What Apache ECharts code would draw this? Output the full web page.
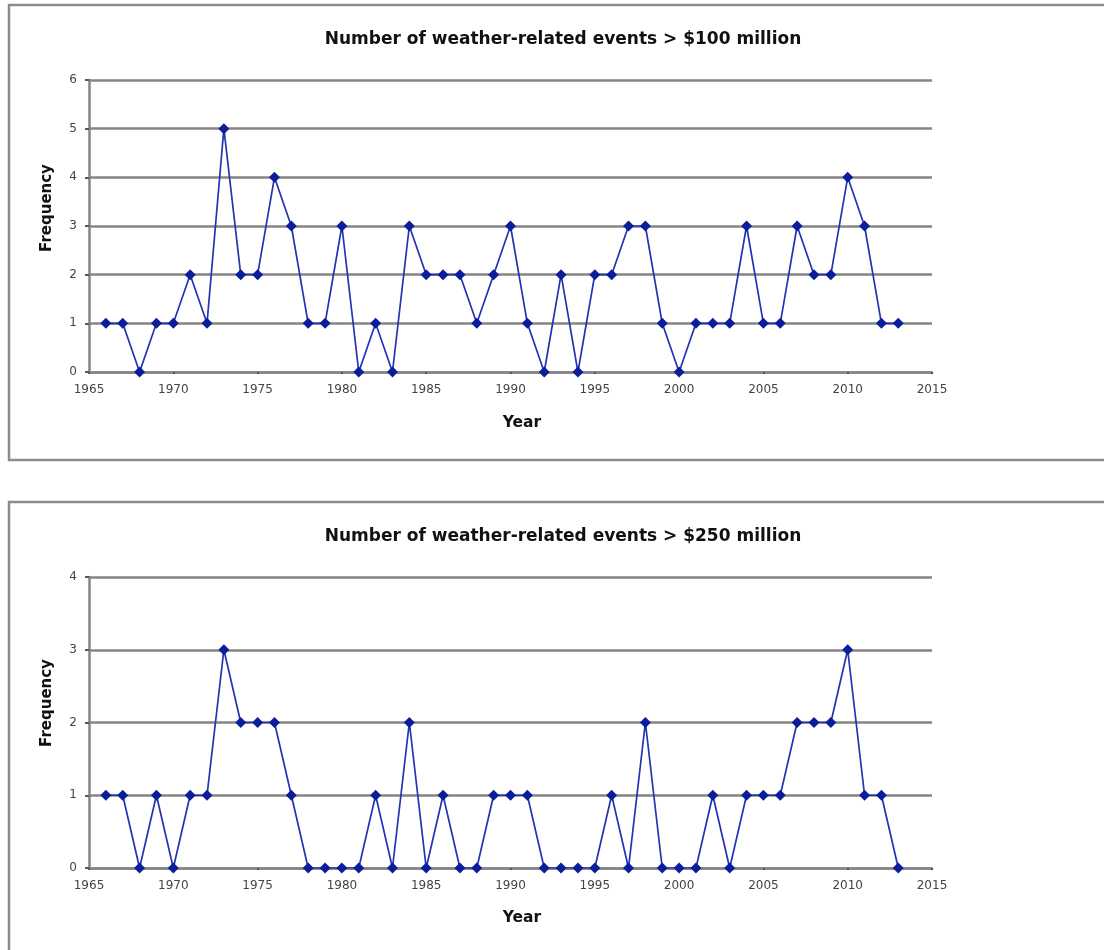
<!DOCTYPE html>
<html>
<head>
<meta charset="utf-8">
<script src="https://cdn.jsdelivr.net/npm/echarts@6/dist/echarts.min.js"></script>
<style>
html,body{margin:0;padding:0;background:#fff;}
#main{width:1104px;height:950px;}
</style>
</head>
<body>
<div id="main"></div>
<script>
const years = [1966,1967,1968,1969,1970,1971,1972,1973,1974,1975,1976,1977,1978,1979,1980,1981,1982,1983,1984,1985,1986,1987,1988,1989,1990,1991,1992,1993,1994,1995,1996,1997,1998,1999,2000,2001,2002,2003,2004,2005,2006,2007,2008,2009,2010,2011,2012,2013];
const events100 = [1,1,0,1,1,2,1,5,2,2,4,3,1,1,3,0,1,0,3,2,2,2,1,2,3,1,0,2,0,2,2,3,3,1,0,1,1,1,3,1,1,3,2,2,4,3,1,1];
const events250 = [1,1,0,1,0,1,1,3,2,2,2,1,0,0,0,0,1,0,2,0,1,0,0,1,1,1,0,0,0,0,1,0,2,0,0,0,1,0,1,1,1,2,2,2,3,1,1,0];
const title100 = 'Number of weather-related events > $100 million';
const title250 = 'Number of weather-related events > $250 million';
const xTitle = 'Year';
const yTitle = 'Frequency';

const chart = echarts.init(document.getElementById('main'), null, {renderer:'canvas'});
const gridColor = '#858585';
const lineColor = '#2233b4';
const markColor = '#0a1e9c';
const font = '"DejaVu Sans", Arial, sans-serif';

function xAxisDef(idx){
  return {
    gridIndex: idx, type:'value', min:1965, max:2015, interval:5,
    axisLine:{show:true, lineStyle:{color:gridColor, width:2.5}},
    axisTick:{show:true, length:2, lineStyle:{color:'#555', width:2}},
    axisLabel:{color:'#444', fontSize:12, fontFamily:font, margin:12, formatter:(v)=>String(v)},
    splitLine:{show:false}
  };
}
function yAxisDef(idx, max){
  return {
    gridIndex: idx, type:'value', min:0, max:max, interval:1,
    axisLine:{show:true, lineStyle:{color:gridColor, width:2.5}},
    axisTick:{show:true, length:4, lineStyle:{color:'#555', width:2}},
    axisLabel:{color:'#444', fontSize:12, fontFamily:font, margin:12},
    splitLine:{show:true, lineStyle:{color:gridColor, width:2.5}}
  };
}
function seriesDef(idx, vals){
  return {
    type:'line', xAxisIndex:idx, yAxisIndex:idx,
    data: years.map((y,i)=>[y, vals[i]]),
    symbol:'diamond', symbolSize:11,
    itemStyle:{color:markColor},
    lineStyle:{color:lineColor, width:1.7},
    animation:false
  };
}
function txt(x, y, text, size, rot){
  return {
    type:'text', x:x, y:y, rotation: rot||0, z:10,
    style:{text:text, fill:'#111', font:'bold '+size+'px '+font, textAlign:'center', textVerticalAlign:'middle'}
  };
}

chart.setOption({
  animation:false,
  grid:[
    {left:89, top:80, width:843, height:292},
    {left:89, top:577, width:843, height:291}
  ],
  xAxis:[xAxisDef(0), xAxisDef(1)],
  yAxis:[yAxisDef(0,6), yAxisDef(1,4)],
  series:[seriesDef(0, events100), seriesDef(1, events250)],
  graphic:[
    {type:'rect', shape:{x:9, y:5, width:1120, height:455}, style:{fill:null, stroke:'#8c8c8c', lineWidth:2.5}, z:-1},
    {type:'rect', shape:{x:9, y:502, width:1120, height:470}, style:{fill:null, stroke:'#8c8c8c', lineWidth:2.5}, z:-1},
    txt(563, 40, title100, 17),
    txt(563, 537, title250, 17),
    txt(522, 423, xTitle, 15.5),
    txt(522, 918, xTitle, 15.5),
    txt(47, 208, yTitle, 15, Math.PI/2),
    txt(47, 703, yTitle, 15, Math.PI/2)
  ]
});
</script>
</body>
</html>
